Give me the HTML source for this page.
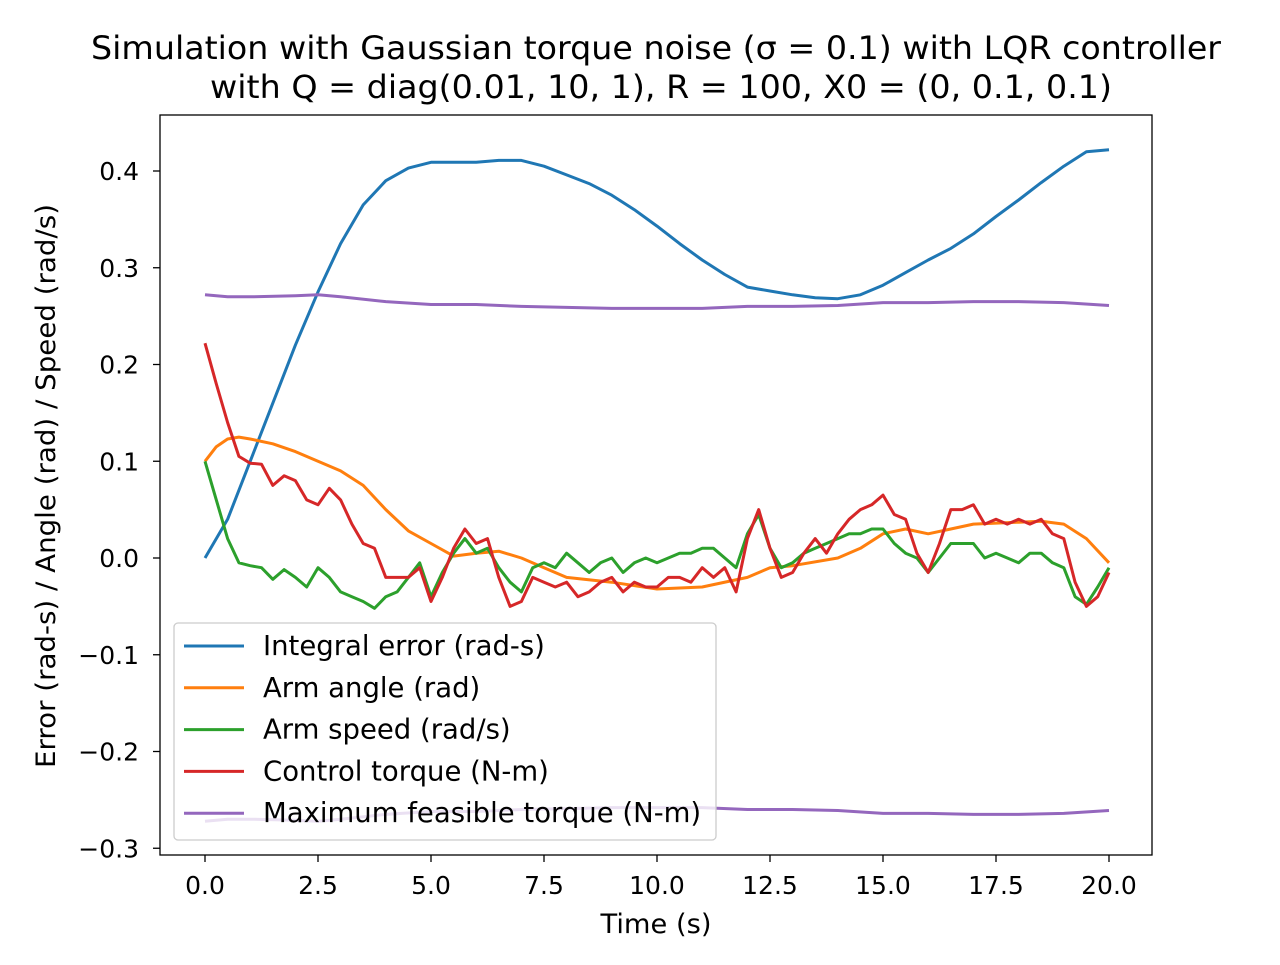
<!DOCTYPE html>
<html><head><meta charset="utf-8"><style>
body{margin:0;background:#fff;}
svg text{font-family:"DejaVu Sans","Liberation Sans",sans-serif;fill:#000;}
</style></head><body>
<svg id="chart" width="1280" height="960" xmlns="http://www.w3.org/2000/svg">
<rect width="1280" height="960" fill="#fff"/>
<text x="656" y="59" font-size="32" text-anchor="middle" textLength="1130" lengthAdjust="spacingAndGlyphs">Simulation with Gaussian torque noise (σ = 0.1) with LQR controller</text>
<text x="661" y="98" font-size="32" text-anchor="middle" textLength="902" lengthAdjust="spacingAndGlyphs">with Q = diag(0.01, 10, 1), R = 100, X0 = (0, 0.1, 0.1)</text>
<g id="series"></g>
<rect x="160" y="115" width="992" height="740" fill="none" stroke="#000" stroke-width="1.3"/>
<g id="axes"></g>
<text x="656" y="933" font-size="27" text-anchor="middle" textLength="111" lengthAdjust="spacingAndGlyphs">Time (s)</text>
<text transform="translate(55,486) rotate(-90)" font-size="27" text-anchor="middle" textLength="564" lengthAdjust="spacingAndGlyphs">Error (rad-s) / Angle (rad) / Speed (rad/s)</text>
<g id="legend"></g>
</svg>
<script>
const tInt=[0,0.5,1,1.5,2,2.5,3,3.5,4,4.5,5,5.5,6,6.5,7,7.5,8,8.5,9,9.5,10,10.5,11,11.5,12,12.5,13,13.5,14,14.5,15,15.5,16,16.5,17,17.5,18,18.5,19,19.5,20];
const integralError=[0,0.04,0.1,0.16,0.22,0.275,0.325,0.365,0.39,0.403,0.409,0.409,0.409,0.411,0.411,0.405,0.396,0.387,0.375,0.36,0.343,0.325,0.308,0.293,0.28,0.276,0.272,0.269,0.268,0.272,0.282,0.295,0.308,0.32,0.335,0.353,0.37,0.388,0.405,0.42,0.422];
const tMax=[0,0.5,1,2,2.5,3,4,5,6,7,8,9,10,11,12,13,14,15,16,17,18,19,20];
const maxTorque=[0.272,0.27,0.27,0.271,0.272,0.27,0.265,0.262,0.262,0.26,0.259,0.258,0.258,0.258,0.26,0.26,0.261,0.264,0.264,0.265,0.265,0.264,0.261];
const tAng=[0,0.25,0.5,0.75,1,1.5,2,2.5,3,3.5,4,4.5,5,5.5,6,6.5,7,7.5,8,9,10,11,12,12.5,13,14,14.5,15,15.5,16,16.5,17,18,18.5,19,19.5,20];
const armAngle=[0.1,0.115,0.123,0.125,0.123,0.118,0.11,0.1,0.09,0.075,0.05,0.028,0.015,0.002,0.005,0.007,0,-0.01,-0.02,-0.025,-0.032,-0.03,-0.02,-0.01,-0.008,0,0.01,0.025,0.03,0.025,0.03,0.035,0.037,0.038,0.035,0.02,-0.005];
const armSpeed=[0.1,0.06,0.02,-0.005,-0.008,-0.01,-0.022,-0.012,-0.02,-0.03,-0.01,-0.02,-0.035,-0.04,-0.045,-0.052,-0.04,-0.035,-0.02,-0.005,-0.04,-0.015,0.005,0.02,0.005,0.01,-0.01,-0.025,-0.035,-0.01,-0.005,-0.01,0.005,-0.005,-0.015,-0.005,0,-0.015,-0.005,0,-0.005,0,0.005,0.005,0.01,0.01,0,-0.01,0.025,0.045,0.01,-0.01,-0.005,0.005,0.01,0.015,0.02,0.025,0.025,0.03,0.03,0.015,0.005,0,-0.015,0,0.015,0.015,0.015,0,0.005,0,-0.005,0.005,0.005,-0.005,-0.01,-0.04,-0.048,-0.03,-0.01];
const controlTorque=[0.222,0.18,0.14,0.105,0.098,0.097,0.075,0.085,0.08,0.06,0.055,0.072,0.06,0.035,0.015,0.01,-0.02,-0.02,-0.02,-0.01,-0.045,-0.02,0.01,0.03,0.015,0.02,-0.02,-0.05,-0.045,-0.02,-0.025,-0.03,-0.025,-0.04,-0.035,-0.025,-0.02,-0.035,-0.025,-0.03,-0.03,-0.02,-0.02,-0.025,-0.01,-0.02,-0.01,-0.035,0.02,0.05,0.01,-0.02,-0.015,0.005,0.02,0.005,0.025,0.04,0.05,0.055,0.065,0.045,0.04,0.005,-0.015,0.015,0.05,0.05,0.055,0.035,0.04,0.035,0.04,0.035,0.04,0.025,0.02,-0.025,-0.05,-0.04,-0.015];
const xTicks=[0,2.5,5,7.5,10,12.5,15,17.5,20];
const xTickLabels=["0.0","2.5","5.0","7.5","10.0","12.5","15.0","17.5","20.0"];
const yTicks=[-0.3,-0.2,-0.1,0,0.1,0.2,0.3,0.4];
const yTickLabels=["−0.3","−0.2","−0.1","0.0","0.1","0.2","0.3","0.4"];
const legendLabels=["Integral error (rad-s)","Arm angle (rad)","Arm speed (rad/s)","Control torque (N-m)","Maximum feasible torque (N-m)"];

const NS="http://www.w3.org/2000/svg";
const X=t=>205+t*45.2;
const Y=v=>558-v*967.5;
const steps=n=>Array.from({length:n},(_,i)=>i*0.25);
function el(tag,attrs,parent){const e=document.createElementNS(NS,tag);for(const k in attrs)e.setAttribute(k,attrs[k]);parent.appendChild(e);return e;}
const sg=document.getElementById('series');
function line(ts,vs,color,name){
  const p=el('polyline',{points:ts.map((t,i)=>X(t).toFixed(1)+','+Y(vs[i]).toFixed(1)).join(' '),fill:'none',stroke:color,'stroke-width':3,'stroke-linejoin':'round'},sg);
  
  
}
line(tInt,integralError,'#1f77b4','integral-error-line');
line(tAng,armAngle,'#ff7f0e','arm-angle-line');
line(steps(armSpeed.length),armSpeed,'#2ca02c','arm-speed-line');
line(steps(controlTorque.length),controlTorque,'#d62728','control-torque-line');
line(tMax,maxTorque,'#9467bd','max-torque-upper-line');
line(tMax,maxTorque.map(v=>-v),'#9467bd','max-torque-lower-line');

const ax=document.getElementById('axes');
xTicks.forEach((t,i)=>{
  el('line',{x1:X(t),x2:X(t),y1:855,y2:862,stroke:'#000','stroke-width':1.3},ax);
  const tx=el('text',{x:X(t),y:894,'font-size':25,'text-anchor':'middle'},ax);
  tx.textContent=xTickLabels[i];
  
  
});
yTicks.forEach((v,i)=>{
  el('line',{x1:153,x2:160,y1:Y(v),y2:Y(v),stroke:'#000','stroke-width':1.3},ax);
  const tx=el('text',{x:139,y:Y(v)+9,'font-size':25,'text-anchor':'end'},ax);
  tx.textContent=yTickLabels[i];
  
  
});

const lg=document.getElementById('legend');
el('rect',{x:174,y:623,width:542,height:217,rx:4,fill:'#fff','fill-opacity':0.8,stroke:'#ccc','stroke-width':1.3},lg);
const colors=['#1f77b4','#ff7f0e','#2ca02c','#d62728','#9467bd'];
legendLabels.forEach((lab,i)=>{
  const y=646+i*41.8;
  el('line',{x1:184,x2:244,y1:y,y2:y,stroke:colors[i],'stroke-width':3},lg);
  const tx=el('text',{x:263,y:y+9,'font-size':27.5},lg);
  tx.textContent=lab;
  
  
});
</script>
</body></html>
